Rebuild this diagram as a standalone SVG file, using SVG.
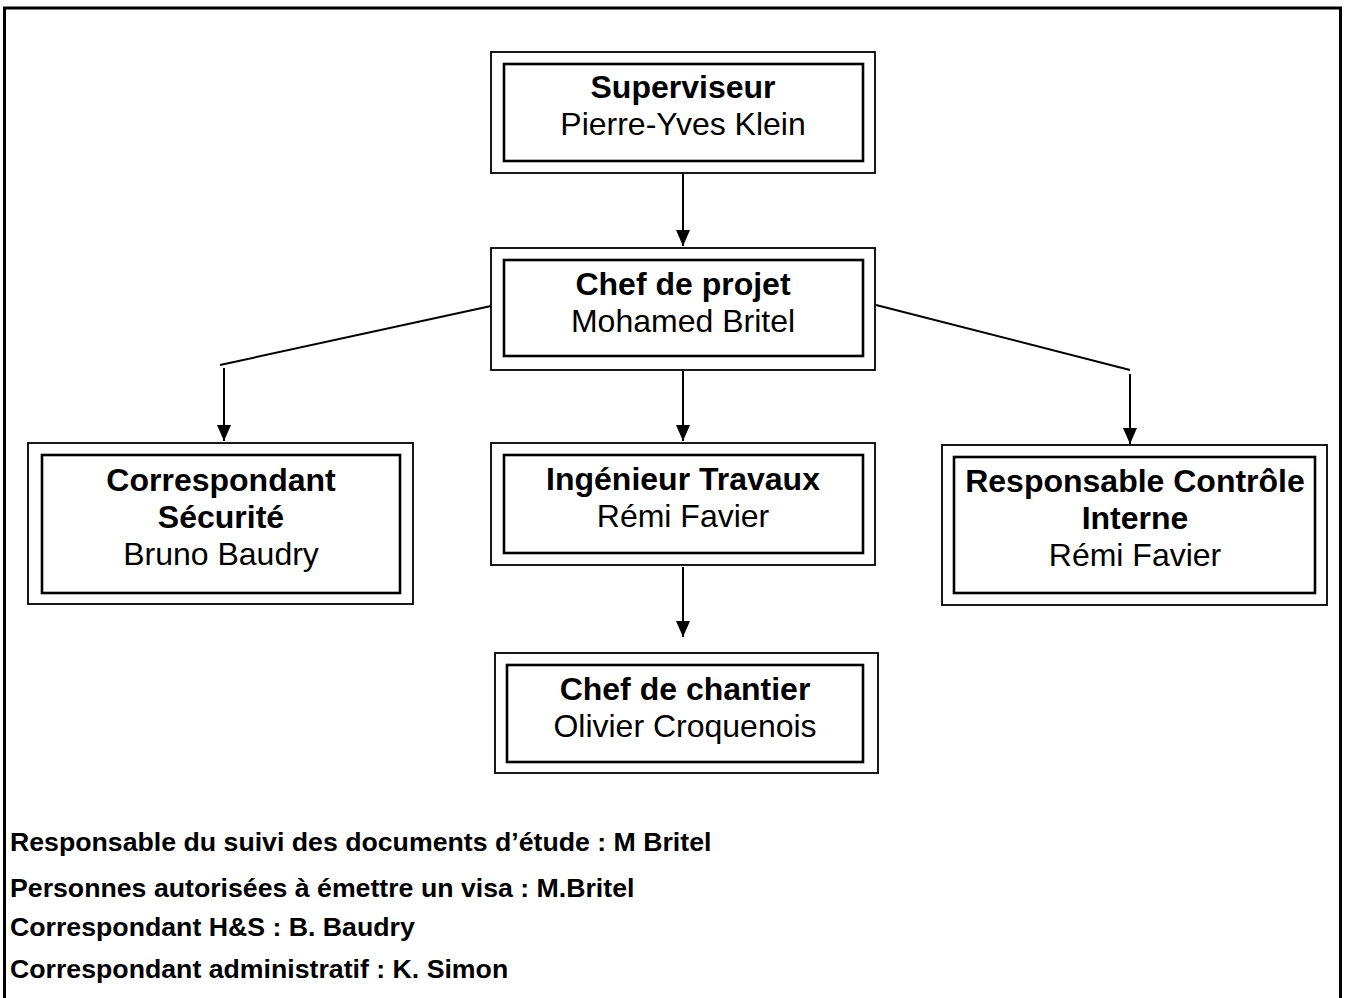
<svg xmlns="http://www.w3.org/2000/svg" width="1348" height="998" viewBox="0 0 1348 998">
<style>
.outer{fill:#fff;stroke:#000;stroke-width:1.8}
.inner{fill:none;stroke:#000;stroke-width:2.6}
.t{font-family:"Liberation Sans",Arial,sans-serif;font-size:32px;fill:#000;text-anchor:middle}
.b{font-weight:bold}
.note{font-family:"Liberation Sans",Arial,sans-serif;font-size:26.7px;font-weight:bold;fill:#000}
.conn{stroke:#000;stroke-width:2;fill:none}
</style>
<defs>
<marker id="arr" viewBox="0 0 16 14" refX="16" refY="7" markerWidth="16" markerHeight="14" markerUnits="userSpaceOnUse" orient="auto">
<path d="M0,0 L16,7 L0,14 z" fill="#000"/>
</marker>
</defs>
<rect width="1348" height="998" fill="#fff"/>
<path d="M4.5,998 V8 H1340.5 V998" fill="none" stroke="#000" stroke-width="3"/>

<g id="connectors">
<line class="conn" x1="683" y1="174" x2="683" y2="246" marker-end="url(#arr)"/>
<polyline class="conn" points="491,306 220,365"/>
<line class="conn" x1="224" y1="368" x2="224" y2="441" marker-end="url(#arr)"/>
<polyline class="conn" points="876,305 1130,370"/>
<line class="conn" x1="1130" y1="374" x2="1130" y2="444" marker-end="url(#arr)"/>
<line class="conn" x1="683" y1="371" x2="683" y2="441" marker-end="url(#arr)"/>
<line class="conn" x1="683" y1="567" x2="683" y2="637" marker-end="url(#arr)"/>
</g>

<g id="superviseur">
<rect class="outer" x="491" y="52" width="384" height="121"/>
<rect class="inner" x="504" y="64" width="359" height="97"/>
<text class="t b" x="683" y="98">Superviseur</text>
<text class="t" x="683" y="135">Pierre-Yves Klein</text>
</g>

<g id="chef-projet">
<rect class="outer" x="491" y="248" width="384" height="122"/>
<rect class="inner" x="504" y="260" width="359" height="96"/>
<text class="t b" x="683" y="295">Chef de projet</text>
<text class="t" x="683" y="332">Mohamed Britel</text>
</g>

<g id="correspondant-securite">
<rect class="outer" x="28" y="443" width="385" height="161"/>
<rect class="inner" x="42" y="455" width="358" height="138"/>
<text class="t b" x="221" y="491">Correspondant</text>
<text class="t b" x="221" y="528">Sécurité</text>
<text class="t" x="221" y="565">Bruno Baudry</text>
</g>

<g id="ingenieur-travaux">
<rect class="outer" x="491" y="443" width="384" height="122"/>
<rect class="inner" x="504" y="455" width="359" height="98"/>
<text class="t b" x="683" y="490">Ingénieur Travaux</text>
<text class="t" x="683" y="527">Rémi Favier</text>
</g>

<g id="responsable-controle">
<rect class="outer" x="942" y="445" width="385" height="160"/>
<rect class="inner" x="954" y="457" width="361" height="136"/>
<text class="t b" x="1135" y="492">Responsable Contrôle</text>
<text class="t b" x="1135" y="529">Interne</text>
<text class="t" x="1135" y="566">Rémi Favier</text>
</g>

<g id="chef-chantier">
<rect class="outer" x="495" y="653" width="383" height="120"/>
<rect class="inner" x="507" y="665" width="356" height="97"/>
<text class="t b" x="685" y="700">Chef de chantier</text>
<text class="t" x="685" y="737">Olivier Croquenois</text>
</g>

<g id="notes">
<text class="note" x="10" y="851">Responsable du suivi des documents d’étude : M Britel</text>
<text class="note" x="10" y="897">Personnes autorisées à émettre un visa : M.Britel</text>
<text class="note" x="10" y="936">Correspondant H&amp;S : B. Baudry</text>
<text class="note" x="10" y="978">Correspondant administratif : K. Simon</text>
</g>
</svg>
